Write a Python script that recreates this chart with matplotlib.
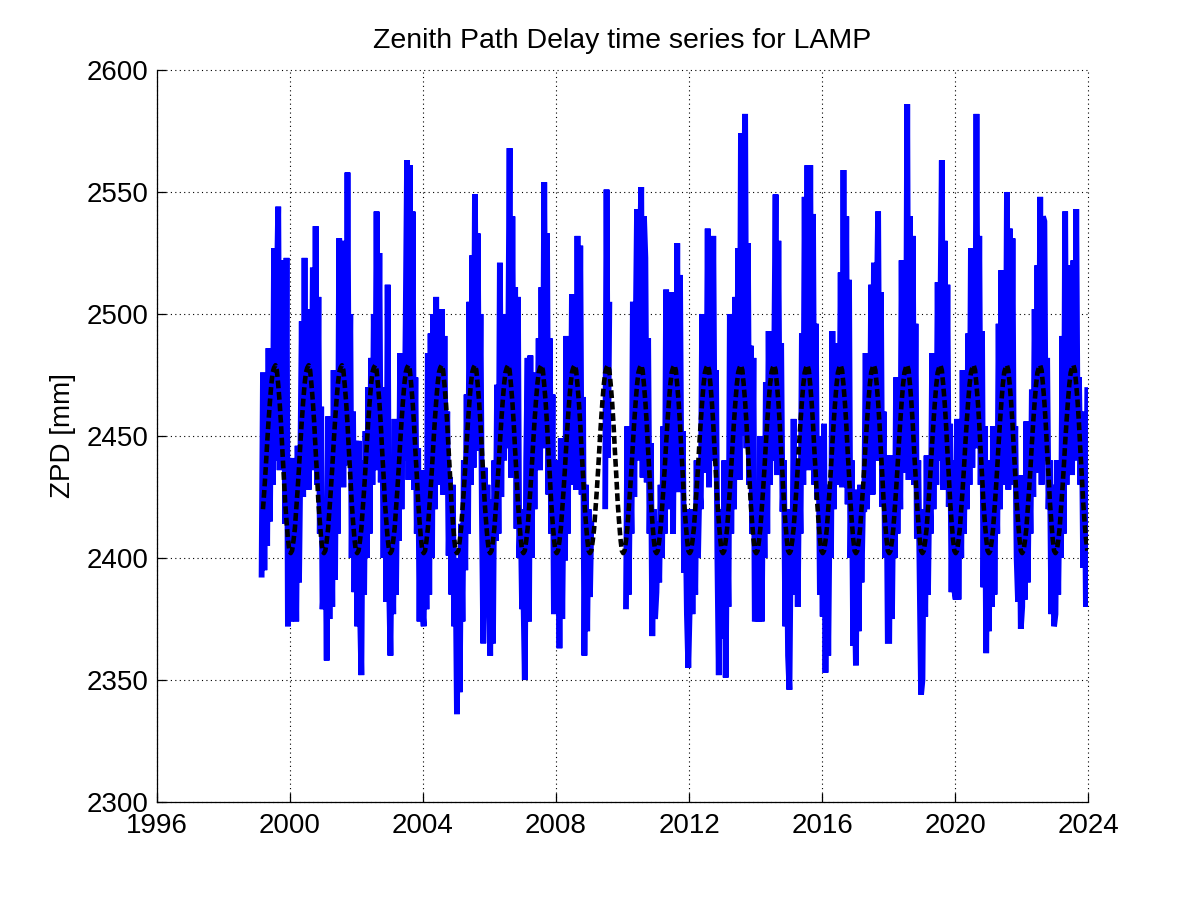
import matplotlib
matplotlib.use("Agg")
import matplotlib.pyplot as plt

plt.rcParams['font.family'] = ['Liberation Sans', 'DejaVu Sans']

nan = float('nan')

# Semi-monthly ZPD readings [mm], 24 values per year (centre of each half month)
zpd_1999 = [nan, nan, nan, 2392, 2476, 2395, 2470, 2405, 2486, 2415, 2480, 2430,
            2527, 2440, 2510, 2544, 2436, 2522, 2445, 2500, 2414, 2523, 2372, 2441]
zpd_2000 = [2374, 2441, 2380, 2420, 2374, 2446, 2390, 2440, 2497, 2425, 2523, 2432,
            2502, 2428, 2490, 2445, 2519, 2436, 2536, 2430, 2507, 2410, 2462, 2379]
zpd_2001 = [2390, 2420, 2358, 2458, 2375, 2440, 2380, 2477, 2391, 2470, 2410, 2531,
            2435, 2520, 2429, 2530, 2438, 2558, 2445, 2500, 2400, 2460, 2386, 2448]
zpd_2002 = [2372, 2448, 2380, 2352, 2440, 2385, 2452, 2400, 2470, 2410, 2482, 2430,
            2500, 2436, 2542, 2445, 2525, 2431, 2470, 2400, 2470, 2382, 2512, 2390]
zpd_2003 = [2360, 2420, 2377, 2457, 2385, 2440, 2407, 2484, 2420, 2470, 2440, 2496,
            2563, 2432, 2561, 2445, 2542, 2428, 2474, 2410, 2445, 2374, 2436, 2380]
zpd_2004 = [2372, 2436, 2379, 2484, 2385, 2492, 2400, 2500, 2420, 2507, 2430, 2480,
            2433, 2502, 2426, 2491, 2430, 2460, 2401, 2433, 2385, 2430, 2372, 2400]
zpd_2005 = [2336, 2400, 2345, 2414, 2374, 2440, 2395, 2467, 2410, 2505, 2430, 2524,
            2437, 2549, 2450, 2533, 2444, 2500, 2420, 2365, 2437, 2379, 2430, 2385]
zpd_2006 = [2360, 2424, 2365, 2440, 2407, 2471, 2410, 2521, 2425, 2490, 2440, 2500,
            2445, 2480, 2568, 2433, 2540, 2440, 2511, 2412, 2507, 2400, 2420, 2379]
zpd_2007 = [2385, 2350, 2440, 2482, 2374, 2483, 2400, 2470, 2420, 2476, 2445, 2490,
            2436, 2511, 2445, 2554, 2450, 2533, 2426, 2490, 2410, 2467, 2377, 2430]
zpd_2008 = [2380, 2440, 2363, 2449, 2375, 2430, 2399, 2491, 2410, 2480, 2430, 2508,
            2440, 2500, 2428, 2532, 2440, 2528, 2426, 2466, 2360, 2430, 2370, 2420]
zpd_2009 = [2384, 2415, nan, nan, nan, nan, nan, nan, nan, nan, nan, 2420,
            2551, 2441, 2505, nan, nan, nan, nan, nan, nan, nan, nan, nan]
zpd_2010 = [nan, nan, 2379, 2454, 2385, 2440, 2410, 2505, 2425, 2490, 2543, 2440,
            2520, 2552, 2433, 2540, 2523, 2431, 2490, 2410, 2447, 2368, 2420, 2375]
zpd_2011 = [2386, 2415, 2390, 2430, 2400, 2454, 2410, 2510, 2420, 2480, 2430, 2509,
            2410, 2490, 2440, 2529, 2427, 2516, 2430, 2452, 2394, 2420, 2377, 2355]
zpd_2012 = [2380, 2420, 2377, 2415, 2385, 2440, 2400, 2430, 2420, 2500, 2435, 2477,
            2440, 2535, 2429, 2510, 2440, 2532, 2444, 2477, 2400, 2352, 2420, 2380]
zpd_2013 = [2367, 2440, 2351, 2420, 2380, 2500, 2410, 2470, 2420, 2507, 2440, 2527,
            2432, 2574, 2450, 2540, 2582, 2445, 2529, 2430, 2487, 2410, 2482, 2374]
zpd_2014 = [2380, 2430, 2374, 2450, 2374, 2440, 2400, 2472, 2410, 2493, 2430, 2489,
            2440, 2480, 2549, 2434, 2530, 2440, 2488, 2419, 2440, 2372, 2420, 2360]
zpd_2015 = [2346, 2410, 2390, 2457, 2385, 2440, 2380, 2440, 2410, 2492, 2430, 2548,
            2445, 2561, 2436, 2561, 2440, 2541, 2430, 2496, 2424, 2450, 2385, 2430]
zpd_2016 = [2376, 2455, 2353, 2430, 2360, 2420, 2400, 2493, 2420, 2480, 2430, 2488,
            2440, 2517, 2429, 2559, 2440, 2540, 2422, 2514, 2400, 2440, 2364, 2389]
zpd_2017 = [2356, 2428, 2370, 2430, 2390, 2420, 2420, 2484, 2420, 2470, 2435, 2512,
            2426, 2521, 2440, 2500, 2542, 2440, 2509, 2421, 2460, 2400, 2442, 2366]
zpd_2018 = [2366, 2442, 2375, 2430, 2400, 2474, 2410, 2460, 2420, 2522, 2435, 2510,
            2440, 2586, 2432, 2540, 2440, 2532, 2430, 2496, 2408, 2440, 2390, 2344]
zpd_2019 = [2350, 2420, 2376, 2442, 2385, 2430, 2410, 2484, 2420, 2470, 2430, 2513,
            2440, 2500, 2563, 2428, 2530, 2430, 2512, 2421, 2455, 2386, 2440, 2387]
zpd_2020 = [2383, 2457, 2383, 2440, 2400, 2477, 2410, 2460, 2420, 2492, 2430, 2527,
            2437, 2510, 2450, 2582, 2445, 2532, 2430, 2493, 2388, 2454, 2361, 2420]
zpd_2021 = [2370, 2440, 2380, 2454, 2385, 2440, 2410, 2496, 2420, 2518, 2430, 2500,
            2440, 2550, 2428, 2535, 2440, 2531, 2430, 2454, 2400, 2382, 2434, 2371]
zpd_2022 = [2380, 2434, 2383, 2456, 2390, 2440, 2410, 2469, 2425, 2502, 2435, 2520,
            2440, 2548, 2430, 2540, 2538, 2440, 2482, 2420, 2440, 2377, 2430, 2372]
zpd_2023 = [2377, 2440, 2385, 2430, 2400, 2491, 2410, 2542, 2430, 2496, 2440, 2520,
            2434, 2522, 2440, 2543, 2450, 2474, 2430, 2460, 2396, 2450, 2380, 2470]

years = list(range(1999, 2024))
zpd_by_year = [zpd_1999, zpd_2000, zpd_2001, zpd_2002, zpd_2003, zpd_2004, zpd_2005,
               zpd_2006, zpd_2007, zpd_2008, zpd_2009, zpd_2010, zpd_2011, zpd_2012,
               zpd_2013, zpd_2014, zpd_2015, zpd_2016, zpd_2017, zpd_2018, zpd_2019,
               zpd_2020, zpd_2021, zpd_2022, zpd_2023]

# Seasonal model (dashed) read per half month, same each year
model_cycle = [2402, 2403, 2407, 2412, 2420, 2428, 2437, 2447, 2456, 2464, 2471, 2476,
               2478, 2479, 2477, 2471, 2464, 2455, 2444, 2434, 2423, 2415, 2408, 2403]
model_start_index = 4

x_ticks = [1996, 2000, 2004, 2008, 2012, 2016, 2020, 2024]
y_ticks = [2300, 2350, 2400, 2450, 2500, 2550, 2600]

t_obs, z_obs = [], []
for yr, vals in zip(years, zpd_by_year):
    for i, v in enumerate(vals):
        t_obs.append(yr + (i + 0.5) / 24.0)
        z_obs.append(v)

t_mod, z_mod = [], []
for yr in years:
    for i, v in enumerate(model_cycle):
        if yr == years[0] and i < model_start_index:
            continue
        t_mod.append(yr + (i + 0.5) / 24.0)
        z_mod.append(v)

fig = plt.figure(figsize=(12.01, 9.01), dpi=100)
ax = fig.add_axes([157 / 1201, 99 / 901, 931 / 1201, 732 / 901])

ax.plot(t_obs, z_obs, color=(0, 0, 1), lw=4.2, solid_joinstyle='miter',
        solid_capstyle='butt', zorder=2)
ax.plot(t_mod, z_mod, color='k', lw=3.3, linestyle=(0, (1.7, 0.8)), zorder=3)

ax.set_xlim(1996, 2024)
ax.set_ylim(2300, 2600)
ax.set_xticks(x_ticks)
ax.set_yticks(y_ticks)
ax.set_xticklabels([str(v) for v in x_ticks])
ax.set_yticklabels([str(v) for v in y_ticks])

ax.grid(True, linestyle=(0, (1, 3)), linewidth=0.8, color='k')
for gl in ax.get_xgridlines() + ax.get_ygridlines():
    gl.set_clip_on(False)

for s in ['top', 'right']:
    ax.spines[s].set_visible(False)
for s in ['left', 'bottom']:
    ax.spines[s].set_linewidth(0.9)
    ax.spines[s].set_color('k')

ax.tick_params(axis='both', direction='in', length=6.7, width=0.9, colors='k',
               labelsize=20)
ax.tick_params(axis='x', pad=8)
ax.tick_params(axis='y', pad=6)

ax.set_title('Zenith Path Delay time series for LAMP', fontsize=20.5, pad=16)
ax.set_ylabel('ZPD [mm]', fontsize=20)
ax.yaxis.set_label_coords(-0.087, 0.5)

fig.savefig('out.png', dpi=100)
